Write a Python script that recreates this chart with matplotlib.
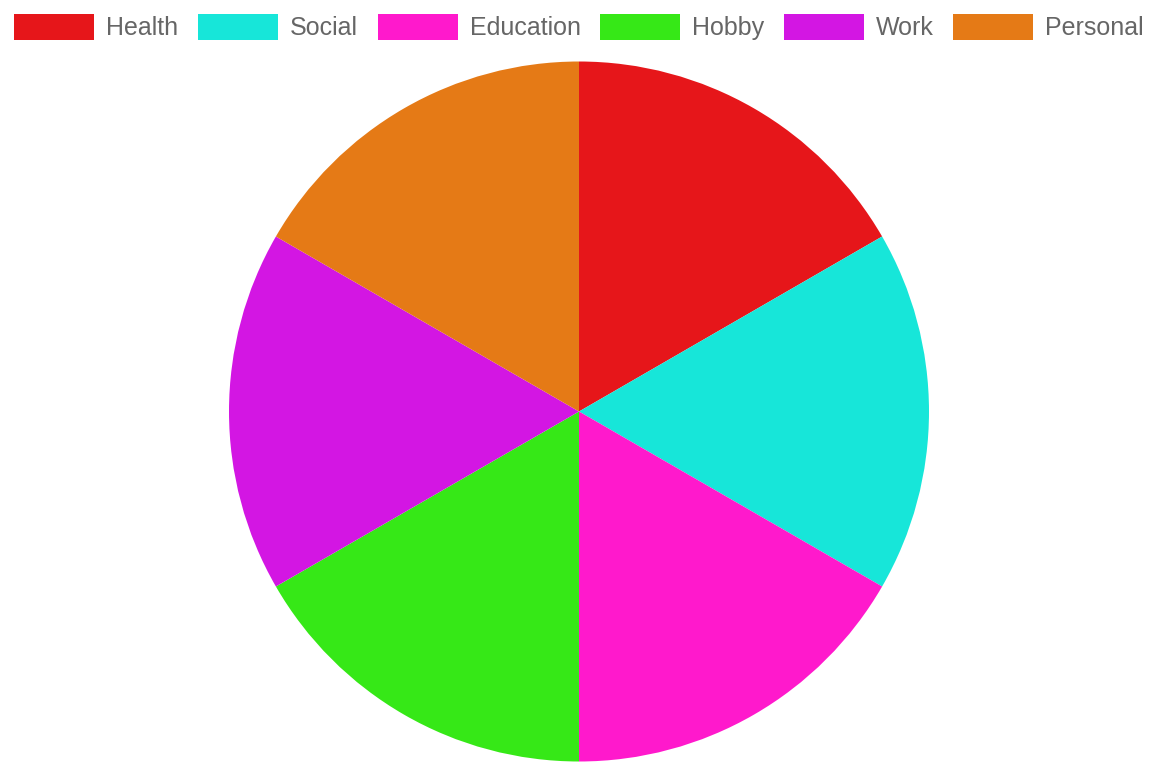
import matplotlib.pyplot as plt
from matplotlib.patches import Patch

labels = ["Health", "Social", "Education", "Hobby", "Work", "Personal"]
values = [1, 1, 1, 1, 1, 1]
colors = ["#e6161a", "#17e6d9", "#ff19cc", "#36e817", "#d316e3", "#e57a16"]

W, H = 1158, 781
fig = plt.figure(figsize=(W / 100, H / 100), dpi=100)
plt.rcParams['font.family'] = ['Liberation Sans', 'DejaVu Sans']

# pie centre (579, 411.5), radius ~350 px
cx, cy, r = 579, 411.5, 350
ax = fig.add_axes([(cx - r) / W, (H - cy - r) / H, 2 * r / W, 2 * r / H])
ax.pie(values, colors=colors, startangle=90, counterclock=False,
       radius=1, wedgeprops=dict(linewidth=0))
ax.set_xlim(-1, 1)
ax.set_ylim(-1, 1)
ax.set_aspect('equal')
ax.axis('off')

handles = [Patch(facecolor=c, edgecolor='none') for c in colors]
leg = fig.legend(handles, labels, loc='upper center', ncol=6,
                 bbox_to_anchor=(0.5, 1 - 14 / H), frameon=False,
                 fontsize=18, handlelength=3.2, handleheight=1.2,
                 handletextpad=0.48, columnspacing=0.78,
                 borderpad=0, borderaxespad=0)
for t in leg.get_texts():
    t.set_color('#666666')

fig.savefig("out.png", dpi=100)
